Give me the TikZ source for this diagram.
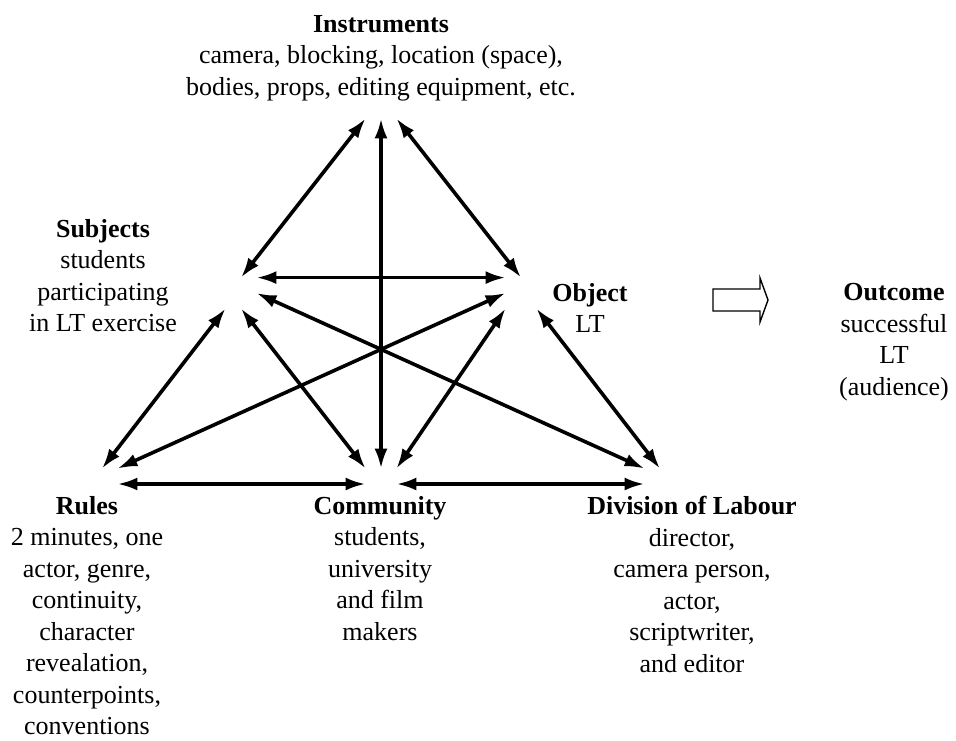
\documentclass[tikz,border=0pt]{standalone}
\usepackage{fontspec}
\setmainfont{Liberation Serif}
\usetikzlibrary{arrows.meta}

\tikzset{
  vtx/.style={draw=none,inner sep=0pt,minimum size=15pt},
  link/.style={line width=1.8pt,{Latex[length=10pt,width=6.5pt]}-{Latex[length=10pt,width=6.5pt]}},
  lbl/.style={align=center,anchor=north,inner sep=0pt,font=\fontsize{13}{15.75}\selectfont}
}

\begin{document}
\begin{tikzpicture}[x=0.5pt,y=-0.5pt]
\useasboundingbox (0,0) rectangle (956,740);

\node[vtx] (instr) at (381,103) {};
\node[vtx] (subj) at (241,293) {};
\node[vtx] (obj) at (521,293) {};
\node[vtx] (rules) at (102,484) {};
\node[vtx] (comm) at (381,484) {};
\node[vtx] (divi) at (660,484) {};

\draw[link] (instr.south west) -- (subj.north);
\draw[link] (instr.south) -- (comm.north);
\draw[link] (instr.south east) -- (obj.north);
\draw[link] (subj.north east) -- (obj.north west);
\draw[link] (subj.east) -- (divi.north west);
\draw[link] (obj.west) -- (rules.north east);
\draw[link] (subj.south west) -- (rules.north);
\draw[link] (subj.south) -- (comm.north west);
\draw[link] (obj.south west) -- (comm.north east);
\draw[link] (obj.south east) -- (divi.north);
\draw[link] (rules.east) -- (comm.west);
\draw[link] (comm.east) -- (divi.west);

\node[lbl] (instrtxt) at (381,15) {\textbf{Instruments}\\camera, blocking, location (space),\\bodies, props, editing equipment, etc.};
\node[lbl] (subjtxt) at (103,219) {\textbf{Subjects}\\students\\participating\\in LT exercise};
\node[lbl] (objtxt) at (590,283) {\textbf{Object}\\LT};
\node[lbl] (outtxt) at (894,283) {\textbf{Outcome}\\successful\\LT\\(audience)};
\node[lbl] (rulestxt) at (87,496) {\textbf{Rules}\\2 minutes, one\\actor, genre,\\continuity,\\character\\revealation,\\counterpoints,\\conventions};
\node[lbl] (commtxt) at (380,496) {\textbf{Community}\\students,\\university\\and film\\makers};
\node[lbl] (divitxt) at (692,496) {\textbf{Division of Labour}\\director,\\camera person,\\actor,\\scriptwriter,\\and editor};

\draw[line width=0.7pt] (713,289) -- (760,289) -- (760,278) -- (768,300) -- (760,322) -- (760,311) -- (713,311) -- cycle;

\end{tikzpicture}
\end{document}
